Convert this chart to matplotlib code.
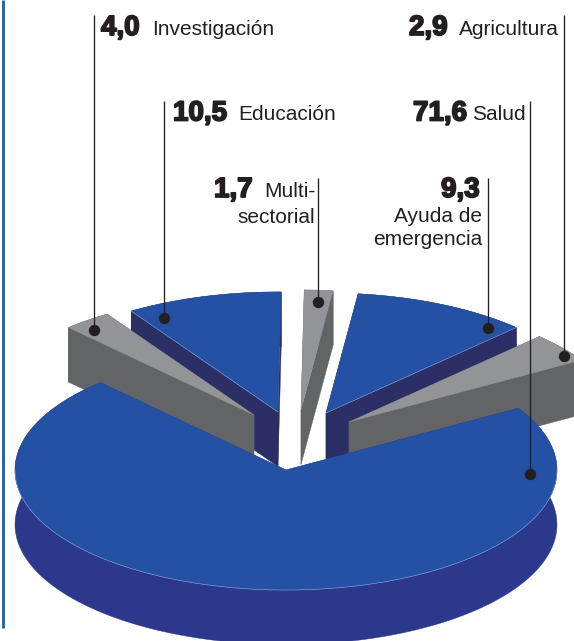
import numpy as np
import matplotlib
matplotlib.use("Agg")
import matplotlib.pyplot as plt
from matplotlib.patches import Polygon
import matplotlib.patheffects as pe

# ---- data: wedge sequence, counter-clockwise from the right edge of the Salud gap
categories = ["Investigación", "Educación", "Multisectorial", "Ayuda de emergencia", "Agricultura"]
values = [4.0, 10.5, 1.7, 9.3, 2.9]
salud_value = 71.6

# ---- layout (pixels)
W, H = 574, 641
RX, RATIO, DEPTH = 271.0, 0.443, 54.5
START_ANGLE = 31.0
apexes = [(349, 422), (326, 413), (301, 410), (278, 412), (254, 415)]
main_apex = (286, 470)
draw_order = [3, 1, 2, 4, 0]
BLUE, NAVY_BIG, NAVY, GREY, GREY_D = "#2451A4", "#2C388C", "#2C2F66", "#929497", "#636466"
HILITE = "#7F9AD2"
INK = "#231F20"

fig = plt.figure(figsize=(W / 100, H / 100), dpi=100)
ax = fig.add_axes([0, 0, 1, 1])
ax.set_xlim(0, W)
ax.set_ylim(H, 0)
ax.axis("off")


def arc(apex, a0, a1):
    t = np.radians(np.linspace(a0, a1, 200))
    return np.column_stack([apex[0] + RX * np.cos(t), apex[1] - RX * RATIO * np.sin(t)])


def draw_wedge(apex, a0, a1, top, side, z):
    pts = arc(apex, a0, a1)
    ap = np.array(apex, float)
    down = np.array([0, DEPTH])
    for a, b in ((ap, pts[0]), (ap, pts[-1])):
        ax.add_patch(Polygon([a, b, b + down, a + down], closed=True, fc=side, ec=side, lw=0.3, zorder=z))
    band = np.vstack([pts, (pts + down)[::-1]])
    ax.add_patch(Polygon(band, closed=True, fc=side, ec=side, lw=0.3, zorder=z))
    ax.add_patch(Polygon(np.vstack([ap, pts]), closed=True, fc=top, ec=top, lw=0.2, zorder=z + 0.1))
    return ap, pts


edges = START_ANGLE + np.concatenate([[0], np.cumsum(values)]) * 3.6
tops = [GREY, BLUE, GREY, BLUE, GREY]
sides = [GREY_D, NAVY, GREY_D, NAVY, GREY_D]
for n, i in enumerate(draw_order):
    ap, pts = draw_wedge(apexes[i], edges[i], edges[i + 1], tops[i], sides[i], 2 + n)
    if tops[i] == BLUE:
        # thin light seam where the top meets its visible side face
        end = pts[0] if i == 1 else pts[-1]
        ax.plot([ap[0], end[0]], [ap[1], end[1]], color=HILITE, lw=0.45, zorder=2 + n + 0.2)

a_end = edges[-1] + salud_value * 3.6
draw_wedge(main_apex, edges[-1], a_end, BLUE, NAVY_BIG, 10)
front = arc(main_apex, 180, 360)
ax.plot(front[:, 0], front[:, 1], color=HILITE, lw=0.45, zorder=10.2)

# left rule
ax.plot([3.4, 3.4], [0, 628], color="#0F62AC", lw=2.0, solid_capstyle="butt", zorder=1)

# leaders: x, top y, dot y
leaders = [(94.3, 15, 330), (163.7, 101, 317.5), (318, 178, 302), (487.5, 178, 328), (564, 15, 356), (529.7, 101, 474)]
for x, y0, y1 in leaders:
    ax.plot([x, x], [y0, y1], color=INK, lw=0.95, solid_capstyle="butt", zorder=20)
    ax.plot([x], [y1], "o", ms=8.2, color=INK, mew=0, zorder=21)

# text
FONT = "Liberation Sans"
heavy = [pe.withStroke(linewidth=1.3, foreground=INK)]


def num(x, y, s):
    ax.text(x, y, s, family=FONT, weight="bold", fontsize=20.0, color=INK, ha="left", va="baseline",
            path_effects=heavy, zorder=30)


def lab(x, y, s, ha="left"):
    ax.text(x, y, s, family=FONT, fontsize=15.0, color=INK, ha=ha, va="baseline", zorder=30)


def fmt(v):
    return f"{v:.1f}".replace(".", ",")


num(101, 35, fmt(values[0]));  lab(152, 35, categories[0])
num(173, 120.5, fmt(values[1]));  lab(238, 120.5, categories[1])
num(214, 197, fmt(values[2]));  lab(315, 197, "Multi-", ha="right")
lab(315, 223, "sectorial", ha="right")
num(441, 197, fmt(values[3]))
lab(482, 222, "Ayuda de", ha="right");  lab(482, 245, "emergencia", ha="right")
num(409, 35, fmt(values[4]));  lab(559, 35, categories[4], ha="right")
num(413, 120.5, fmt(salud_value));  lab(525.5, 120.5, "Salud", ha="right")

fig.savefig("out.png", dpi=100)
